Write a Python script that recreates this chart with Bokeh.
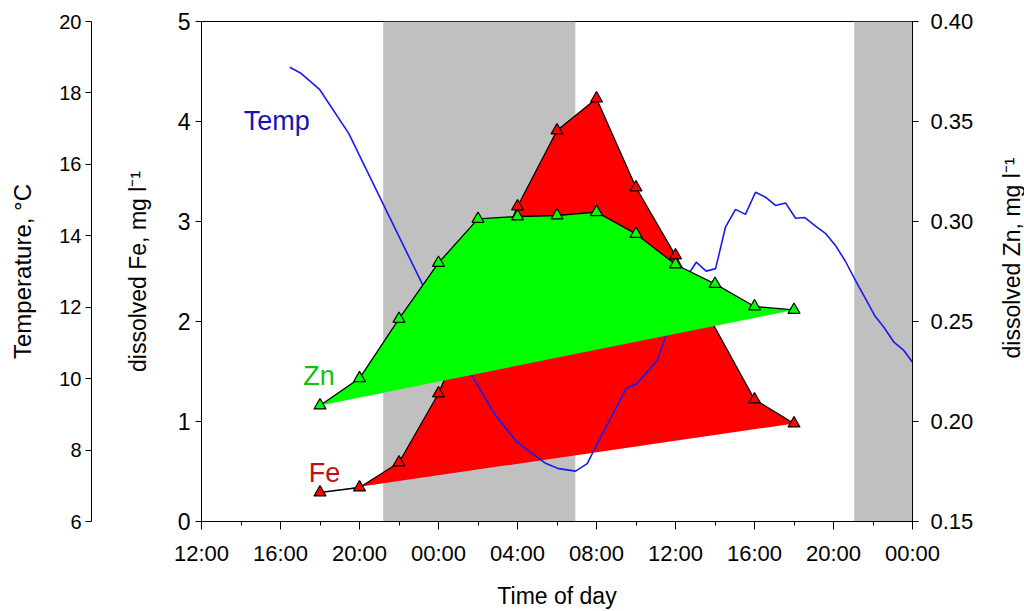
import math
from bokeh.plotting import figure
from bokeh.layouts import row
from bokeh.models import Range1d, LinearAxis, FixedTicker, PrintfTickFormatter
from bokeh.core.properties import value
from bokeh.embed import file_html
from bokeh.resources import INLINE

# time axis: hours since 12:00 on day 1
x_tick_hours = [0, 4, 8, 12, 16, 20, 24, 28, 32, 36]
x_tick_labels = ["12:00", "16:00", "20:00", "00:00", "04:00", "08:00",
                 "12:00", "16:00", "20:00", "00:00"]
x_minor_hours = [2, 6, 10, 14, 18, 22, 26, 30, 34]

# night periods (hours since 12:00 on day 1)
night_start = [9.2, 33.05]
night_end = [18.93, 36.0]

# dissolved Fe, mg/l
fe_hours = [6, 8, 10, 12, 16, 18, 20, 22, 24, 28, 30]
fe_values = [0.29, 0.34, 0.59, 1.28, 3.15, 3.91, 4.23, 3.34, 2.66, 1.22, 0.98]

# dissolved Zn, mg/l
zn_hours = [6, 8, 10, 12, 14, 16, 18, 20, 22, 24, 26, 28, 30]
zn_values = [0.208, 0.2216, 0.2513, 0.2793, 0.3013, 0.3025, 0.303, 0.3047,
             0.2938, 0.2785, 0.2688, 0.2575, 0.2558]

# water temperature, deg C
temp_hours = [4.47, 5.01, 5.99, 7.46, 9.15, 11.17, 13.71, 14.89, 15.98, 17.42,
              18.09, 18.94, 19.53, 20.04, 21.52, 22.01, 23.07, 23.49, 24.72,
              25.05, 25.55, 26.03, 26.53, 27.04, 27.54, 28.05, 28.56, 29.06,
              29.57, 30.08, 30.55, 31.09, 31.59, 32.10, 32.61, 33.11, 33.62,
              34.08, 34.55, 35.06, 35.56, 36.0]
temp_values = [18.72, 18.56, 18.09, 16.86, 14.94, 12.66, 10.06, 8.97, 8.22, 7.63,
               7.48, 7.41, 7.62, 8.18, 9.74, 9.84, 10.51, 11.16, 12.98,
               13.26, 13.01, 13.08, 14.24, 14.74, 14.60, 15.22, 15.08, 14.85,
               14.92, 14.49, 14.51, 14.27, 14.07, 13.73, 13.28, 12.75, 12.24,
               11.77, 11.44, 11.02, 10.79, 10.46]

fe_ticks = [0, 1, 2, 3, 4, 5]
temp_ticks = [6, 8, 10, 12, 14, 16, 18, 20]
zn_ticks = [0.15, 0.20, 0.25, 0.30, 0.35, 0.40]

FONT = "Liberation Sans"

p = figure(width=994, height=611, output_backend="svg", toolbar_location=None,
           x_range=Range1d(0, 36), y_range=Range1d(0, 5),
           min_border_top=21, min_border_bottom=90, min_border_right=82,
           min_border_left=201)
p.extra_y_ranges = {"temp": Range1d(6, 20), "zn": Range1d(0.15, 0.40)}
p.xgrid.grid_line_color = None
p.ygrid.grid_line_color = None
p.outline_line_color = "black"
p.outline_line_alpha = 1.0
p.outline_line_width = 1
p.background_fill_color = "white"

# night shading
p.quad(left=night_start, right=night_end, bottom=0, top=5,
       fill_color="#c0c0c0", line_color=None)

# Fe
p.patch(fe_hours, fe_values, fill_color="#ff0000", line_color=None)
p.line(fe_hours, fe_values, line_color="black", line_width=1.3)
p.scatter(fe_hours, fe_values, marker="triangle", size=12,
          fill_color="#ff0000", line_color="black", line_width=1.2)

# Temperature
p.line(temp_hours, temp_values, y_range_name="temp",
       line_color="#1a1aee", line_width=1.6)

# Zn
p.patch(zn_hours, zn_values, y_range_name="zn", fill_color="#00ff00", line_color=None)
p.line(zn_hours, zn_values, y_range_name="zn", line_color="black", line_width=1.3)
p.scatter(zn_hours, zn_values, y_range_name="zn", marker="triangle", size=12,
          fill_color="#00ff00", line_color="black", line_width=1.2)

# series labels
p.text(x=[2.14], y=[4.01], text=["Temp"], text_color="#1515b5",
       text_font=value(FONT), text_font_size="27px", text_baseline="alphabetic")
p.text(x=[5.15], y=[1.46], text=["Zn"], text_color="#12c012",
       text_font=value(FONT), text_font_size="27px", text_baseline="alphabetic")
p.text(x=[5.43], y=[0.49], text=["Fe"], text_color="#c01010",
       text_font=value(FONT), text_font_size="27px", text_baseline="alphabetic")


def style_axis(ax, tick_size, label_size):
    ax.axis_line_color = "black"
    ax.axis_line_width = 1
    ax.major_tick_line_color = "black"
    ax.major_tick_in = 0
    ax.major_tick_out = 6
    ax.minor_tick_line_color = None
    ax.major_label_text_font = FONT
    ax.major_label_text_font_size = tick_size
    ax.major_label_text_color = "black"
    ax.axis_label_text_font = FONT
    ax.axis_label_text_font_size = label_size
    ax.axis_label_text_font_style = "normal"
    ax.axis_label_text_color = "black"


# x axis
xa = p.xaxis[0]
style_axis(xa, "22px", "23px")
xa.ticker = FixedTicker(ticks=x_tick_hours, minor_ticks=x_minor_hours)
xa.major_label_overrides = {h: lab for h, lab in zip(x_tick_hours, x_tick_labels)}
xa.major_tick_out = 8
xa.minor_tick_line_color = "black"
xa.minor_tick_in = 0
xa.minor_tick_out = 4
xa.major_label_standoff = 11
xa.axis_label = "Time of day"
xa.axis_label_standoff = 14

# Fe axis (primary left)
ya = p.yaxis[0]
style_axis(ya, "23px", "23px")
ya.ticker = FixedTicker(ticks=fe_ticks)
ya.major_label_standoff = 5
ya.axis_label = "dissolved Fe, mg l\u207b\u00b9"
ya.axis_label_standoff = 24

# spacer between Fe axis and temperature axis
spacer = LinearAxis(ticker=FixedTicker(ticks=[]), axis_line_color=None,
                    major_tick_line_color=None, minor_tick_line_color=None,
                    major_tick_out=0, major_label_standoff=0,
                    axis_label=" ", axis_label_text_font_size="20px",
                    axis_label_standoff=5)
p.add_layout(spacer, "left")

# temperature axis
ta = LinearAxis(y_range_name="temp")
style_axis(ta, "20px", "24px")
ta.ticker = FixedTicker(ticks=temp_ticks)
ta.major_label_standoff = 4
ta.axis_label = "Temperature, \u00b0C"
ta.axis_label_standoff = 20
p.add_layout(ta, "left")

# Zn axis (right)
za = LinearAxis(y_range_name="zn")
style_axis(za, "22px", "23px")
za.ticker = FixedTicker(ticks=zn_ticks)
za.formatter = PrintfTickFormatter(format="%.2f")
za.major_label_standoff = 12
p.add_layout(za, "right")

# right axis title (reads bottom-to-top), in a narrow strip next to the plot
t = figure(width=30, height=611, output_backend="svg", toolbar_location=None,
           x_range=Range1d(0, 30), y_range=Range1d(0, 611),
           x_axis_location=None, y_axis_location=None,
           min_border=0, min_border_left=0, min_border_right=0,
           min_border_top=0, min_border_bottom=0)
t.outline_line_color = None
t.xgrid.grid_line_color = None
t.ygrid.grid_line_color = None
t.text(x=[17.5], y=[322], text=["dissolved Zn, mg l\u207b\u00b9"], angle=math.pi / 2,
       text_align="center", text_baseline="alphabetic", text_color="black",
       text_font=value(FONT), text_font_size="23px")

layout = row(p, t, spacing=0)
open("out.html", "w").write(file_html(layout, INLINE))
